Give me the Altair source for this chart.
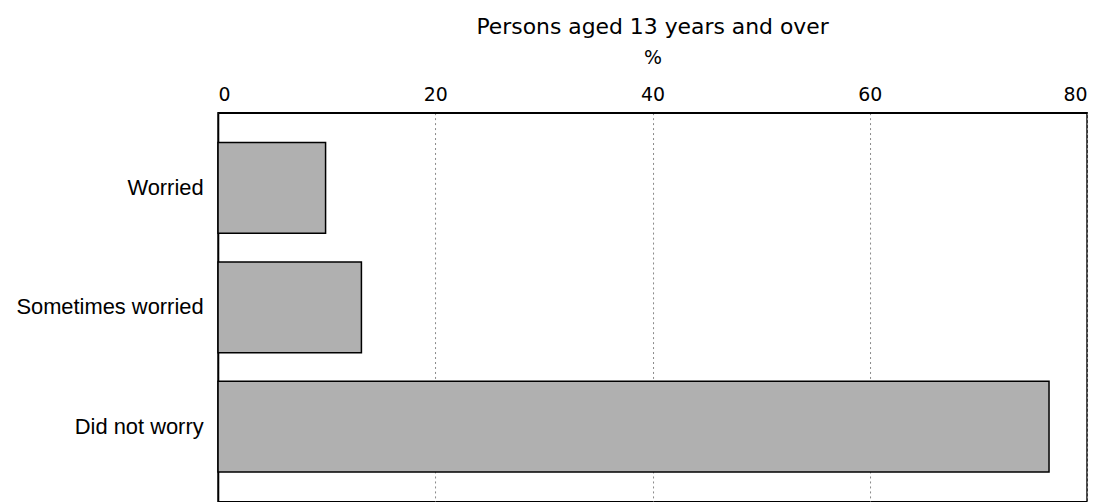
import altair as alt
import pandas as pd

categories = ["Worried", "Sometimes worried", "Did not worry"]
values = [9.9, 13.2, 76.5]
x_ticks = [0, 20, 40, 60, 80]

df = pd.DataFrame({"cat": categories, "pct": values})

FONT = "DejaVu Sans"
YFONT = "Liberation Sans"

chart = alt.Chart(df).mark_bar(
    fill="#b0b0b0", stroke="black", strokeWidth=1.5
).encode(
    x=alt.X("pct:Q",
            scale=alt.Scale(domain=[0, 80], nice=False, zero=True),
            axis=alt.Axis(orient="top", values=x_ticks, title="%",
                          titleFont=FONT, titleFontSize=19, titleFontWeight="normal",
                          titleColor="black", titlePadding=18,
                          labelFont=FONT, labelFontSize=19, labelColor="black",
                          labelPadding=8, ticks=False,
                          domainColor="black", domainWidth=1.5,
                          grid=True, gridColor="#888888", gridDash=[2, 3], gridWidth=1)),
    y=alt.Y("cat:N", sort=categories,
            scale=alt.Scale(paddingInner=0.24, paddingOuter=0.25),
            axis=alt.Axis(title=None, labelFont=YFONT, labelFontSize=22,
                          labelColor="black", labelPadding=15, labelLimit=400, ticks=False,
                          domainColor="black", domainWidth=1.5))
).properties(
    width=873, height=391,
    title=alt.TitleParams("Persons aged 13 years and over", font=FONT, fontSize=22,
                          fontWeight="normal", color="black", anchor="middle", offset=10),
    autosize=alt.AutoSizeParams(type="none"),
    padding={"left": 211, "top": 104, "right": 10, "bottom": 0}
).configure_view(
    stroke="black", strokeWidth=1.5
)

chart.save("out.html", embed_options={"renderer": "svg", "actions": False})
